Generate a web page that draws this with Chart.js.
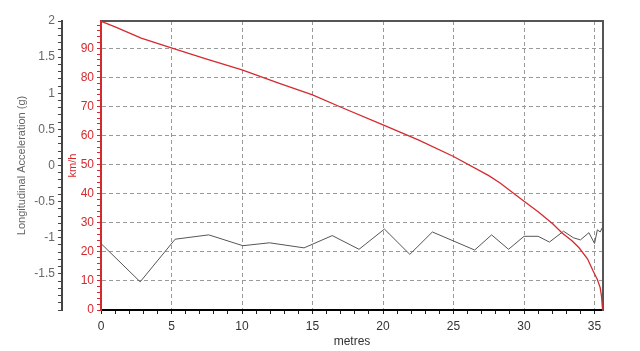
<!DOCTYPE html>
<html>
<head>
<meta charset="utf-8">
<script src="https://cdn.jsdelivr.net/npm/chart.js@4/dist/chart.umd.min.js"></script>
<style>
  html, body { margin: 0; padding: 0; background: #fff; }
  #wrap { width: 640px; height: 351px; position: relative; }
</style>
</head>
<body>
<div id="wrap"><canvas id="chart"></canvas></div>
<script>
// speed trace (km/h) against distance
const speedX = [0, 1, 2.85, 5.1, 7.5, 10, 12.6, 15, 16.9, 20, 22.5, 25, 27.5, 28.3, 30, 31, 32.05, 32.7, 33.4, 33.9, 34.5, 34.9, 35.2, 35.4, 35.5, 35.57]
const speedKmh = [99.3, 97.4, 93.5, 90.0, 86.3, 82.6, 78.0, 74.0, 70.0, 63.7, 58.5, 52.8, 46.2, 43.7, 37.4, 33.8, 29.6, 26.5, 23.8, 21.4, 17.6, 13.4, 10.5, 7.7, 4.5, 0]

// longitudinal acceleration (g) against distance
const accelX = [0, 2.78, 5.26, 7.64, 10.06, 11.95, 14.4, 16.4, 18.3, 20.1, 21.9, 23.5, 26.5, 27.7, 28.9, 30.0, 31.0, 31.8, 32.8, 33.5, 34.0, 34.6, 35.0, 35.2, 35.4, 35.55]
const accelG = [-1.08, -1.61, -1.02, -0.96, -1.11, -1.07, -1.14, -0.97, -1.16, -0.88, -1.23, -0.92, -1.17, -0.96, -1.16, -0.98, -0.98, -1.06, -0.91, -1.00, -1.03, -0.93, -1.08, -0.89, -0.92, -0.86]

const xMax = 35.6
const kmhMax = 99.4

const RED = "#d42a2f"
const GRID = "#9a9a9a"

function near(v, step) {
  const r = v / step
  return Math.abs(r - Math.round(r)) < 1e-6
}

const ctx = document.getElementById("chart").getContext("2d")

new Chart(ctx, {
  type: "scatter",
  data: {
    datasets: [
      {
        label: "Speed",
        data: speedX.map((x, i) => ({ x: x, y: speedKmh[i] })),
        yAxisID: "kmh",
        showLine: true,
        borderColor: RED,
        borderWidth: 1.3,
        pointRadius: 0,
        tension: 0
      },
      {
        label: "Longitudinal Acceleration",
        data: accelX.map((x, i) => ({ x: x, y: accelG[i] })),
        yAxisID: "accel",
        showLine: true,
        borderColor: "#555555",
        borderWidth: 1,
        pointRadius: 0,
        tension: 0
      }
    ]
  },
  options: {
    responsive: true,
    maintainAspectRatio: false,
    animation: false,
    layout: { padding: { left: 12, right: 37, top: 21, bottom: 0 } },
    plugins: { legend: { display: false }, tooltip: { enabled: false } },
    scales: {
      x: {
        type: "linear",
        position: "bottom",
        min: 0,
        max: xMax,
        afterFit: s => { s.height = 41 },
        ticks: {
          stepSize: 1,
          includeBounds: false,
          autoSkip: false,
          maxRotation: 0,
          padding: 5,
          color: "#333",
          font: { family: "Arial", size: 12 },
          callback: v => (near(v, 5) ? String(v) : "")
        },
        grid: {
          color: c => (c.tick && near(c.tick.value, 5) && c.tick.value > 0 ? GRID : "rgba(0,0,0,0)"),
          tickColor: "#222",
          tickLength: 4,
          lineWidth: 1
        },
        border: { color: "#000", width: 2, dash: [4, 3] },
        title: { display: true, text: "metres", color: "#333", font: { family: "Arial", size: 12 }, padding: { top: 0, bottom: 2 } }
      },
      xTop: {
        type: "linear",
        position: "top",
        min: 0,
        max: xMax,
        ticks: { display: false },
        grid: { display: false, drawTicks: false },
        border: { color: "#555", width: 2 }
      },
      kmh: {
        type: "linear",
        position: "left",
        weight: 1,
        min: 0,
        max: kmhMax,
        afterFit: s => { s.width = 39 },
        ticks: {
          stepSize: 2,
          includeBounds: false,
          autoSkip: false,
          maxTicksLimit: 100,
          padding: 3,
          color: RED,
          font: { family: "Arial", size: 12 },
          callback: v => (near(v, 10) ? String(v) : "")
        },
        grid: {
          color: c => (c.tick && near(c.tick.value, 10) && c.tick.value > 0 ? GRID : "rgba(0,0,0,0)"),
          tickColor: RED,
          tickLength: 4
        },
        border: { color: RED, width: 2, dash: [4, 3] },
        title: { display: true, text: "km/h", color: RED, font: { family: "Arial", size: 11 }, padding: { top: 4, bottom: 0 } }
      },
      accel: {
        type: "linear",
        position: "left",
        weight: 2,
        min: -2,
        max: 2,
        afterFit: s => { s.width = 50 },
        ticks: {
          stepSize: 0.1,
          autoSkip: false,
          maxTicksLimit: 100,
          padding: 3,
          color: "#666",
          font: { family: "Arial", size: 12 },
          callback: v => {
            const t = Math.round(v * 10)
            if (t % 5 !== 0 || t === -20) return ""
            return String(t / 10)
          }
        },
        grid: { drawOnChartArea: false, tickColor: "#444", tickLength: 4 },
        border: { color: "#444", width: 2 },
        title: { display: true, text: "Longitudinal Acceleration (g)", color: "#666", font: { family: "Arial", size: 11 }, padding: { top: 3, bottom: 0 } }
      },
      yRight: {
        type: "linear",
        position: "right",
        min: 0,
        max: 1,
        ticks: { display: false },
        grid: { display: false, drawTicks: false },
        border: { color: "#555", width: 2 }
      }
    }
  }
})
</script>
</body>
</html>
